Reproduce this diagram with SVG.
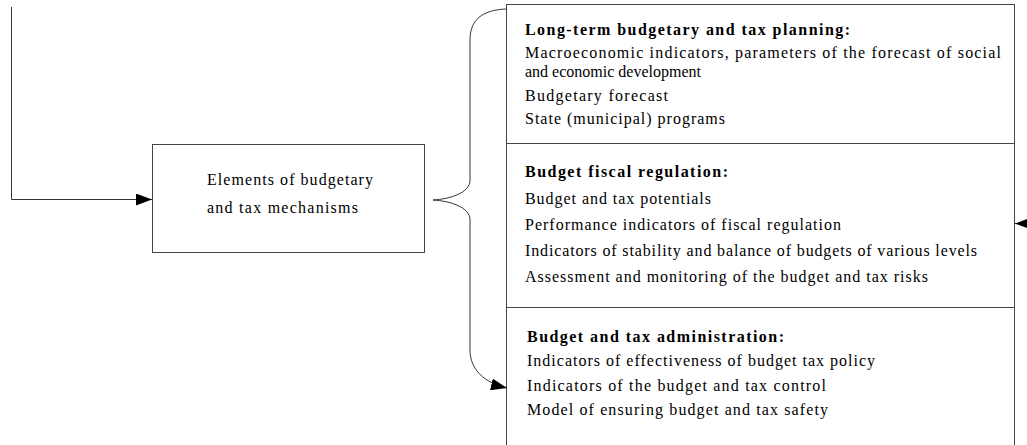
<svg xmlns="http://www.w3.org/2000/svg" width="1027" height="445" viewBox="0 0 1027 445">
  <style>
    .box { fill: #ffffff; stroke: #444444; stroke-width: 1; }
    .line { fill: none; stroke: #333333; stroke-width: 1; }
    .head { font-weight: bold; }
  </style>
  <defs>
    <marker id="arrow" markerWidth="16" markerHeight="12" refX="16" refY="6" orient="auto" markerUnits="userSpaceOnUse">
      <path d="M0,0 L16,6 L0,12 Z" fill="#000000"/>
    </marker>
  </defs>

  <g font-family="Times New Roman, Liberation Serif, Tinos, serif" font-size="16" fill="#000000">
    <!-- central node -->
    <g id="node-elements">
      <rect class="box" x="152.5" y="144.5" width="272" height="108"/>
      <text x="207" y="185" textLength="166" lengthAdjust="spacing">Elements of budgetary</text>
      <text x="207" y="213" textLength="151" lengthAdjust="spacing">and tax mechanisms</text>
    </g>

    <!-- right panel: three sections -->
    <g id="node-planning">
      <rect class="box" x="506.5" y="4.5" width="508" height="139"/>
      <text class="head" x="525" y="35" textLength="325" lengthAdjust="spacing">Long-term budgetary and tax planning:</text>
      <text x="525" y="58" textLength="476" lengthAdjust="spacing">Macroeconomic indicators, parameters of the forecast of social</text>
      <text x="525" y="77">and economic development</text>
      <text x="525" y="101" textLength="143" lengthAdjust="spacing">Budgetary forecast</text>
      <text x="525" y="124" textLength="200" lengthAdjust="spacing">State (municipal) programs</text>
    </g>
    <g id="node-regulation">
      <rect class="box" x="506.5" y="143.5" width="508" height="164"/>
      <text class="head" x="525" y="177" textLength="203" lengthAdjust="spacing">Budget fiscal regulation:</text>
      <text x="525" y="204" textLength="186" lengthAdjust="spacing">Budget and tax potentials</text>
      <text x="525" y="230" textLength="316" lengthAdjust="spacing">Performance indicators of fiscal regulation</text>
      <text x="525" y="256" textLength="452" lengthAdjust="spacing">Indicators of stability and balance of budgets of various levels</text>
      <text x="525" y="282" textLength="403" lengthAdjust="spacing">Assessment and monitoring of the budget and tax risks</text>
    </g>
    <g id="node-administration">
      <rect class="box" x="506.5" y="307.5" width="508" height="150"/>
      <text class="head" x="527" y="342" textLength="257" lengthAdjust="spacing">Budget and tax administration:</text>
      <text x="527" y="366" textLength="348" lengthAdjust="spacing">Indicators of effectiveness of budget tax policy</text>
      <text x="527" y="391" textLength="299" lengthAdjust="spacing">Indicators of the budget and tax control</text>
      <text x="527" y="415" textLength="301" lengthAdjust="spacing">Model of ensuring budget and tax safety</text>
    </g>
  </g>

  <!-- connectors -->
  <g id="connectors">
    <path class="line" d="M11.5,7 V199.5 H152" marker-end="url(#arrow)"/>
    <path class="line" d="M506,9 C482,10 470,20 470,40 V180 C470,193 450,199 433,200 C450,201 470,207 470,220 V350 C470,370 485,383 507,388" marker-end="url(#arrow)"/>
    <path class="line" d="M1027,223.5 H1015" marker-end="url(#arrow)"/>
  </g>
</svg>
